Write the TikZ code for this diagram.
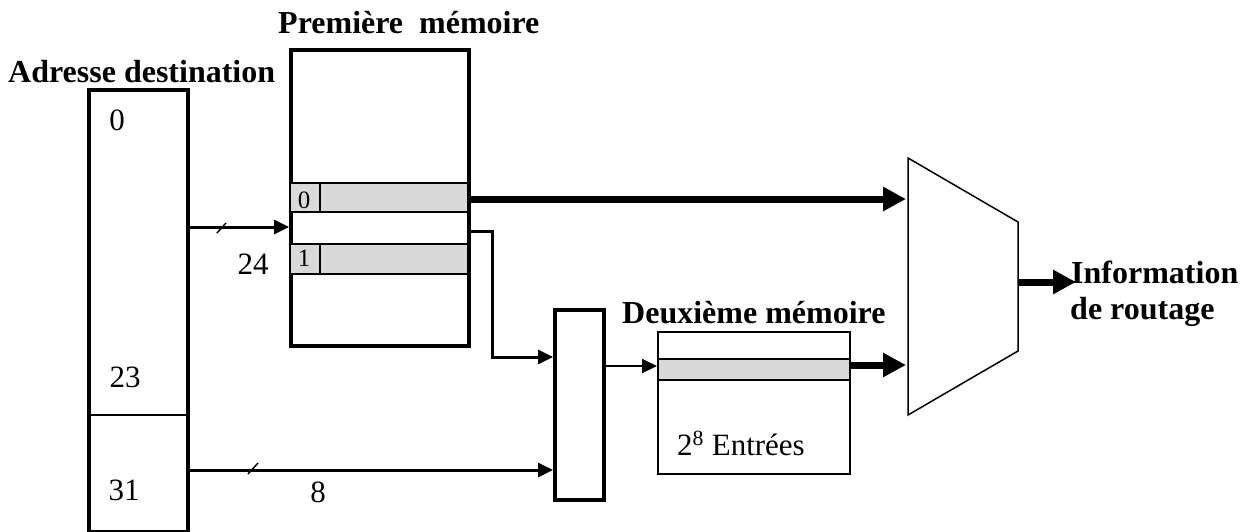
\documentclass[tikz,border=0pt]{standalone}
\usepackage{fontspec}
\setmainfont{Liberation Serif}
\usetikzlibrary{arrows.meta}
\begin{document}
\begin{tikzpicture}[x=1pt,y=-1pt,
  box/.style={draw, rectangle, inner sep=0pt, anchor=north west},
  heavybox/.style={box, line width=4pt},
  lightbox/.style={box, line width=1.5pt},
  rowbox/.style={box, line width=1.5pt, fill=rowgray},
  title/.style={font=\fontsize{32}{36}\selectfont\bfseries, inner sep=0pt},
  lbl/.style={font=\fontsize{31}{34}\selectfont, inner sep=0pt},
  smalllbl/.style={font=\fontsize{25}{28}\selectfont, inner sep=0pt},
  busarrow/.style={line width=3pt, -{Triangle[length=15pt,width=14pt]}},
  thinarrow/.style={line width=2pt, -{Triangle[length=15pt,width=14pt]}},
  widearrow/.style={line width=7pt, -{Triangle[length=23pt,width=23pt]}},
  tick/.style={line width=1.5pt},
]
\definecolor{rowgray}{HTML}{D9D9D9}
\useasboundingbox (0,0) rectangle (1250,531);

% destination address register
\node[heavybox, minimum width=99pt, minimum height=442pt] (addr) at (87,88) {};
\draw[line width=1.5pt] (addr.west |- 0,415) coordinate (divL) -- (addr.east |- divL) coordinate (divR);
\node[title, anchor=base west] (addrT) at (8,82) {Adresse destination};
\node[lbl, anchor=base] (b0) at (117,130) {0};
\node[lbl, anchor=base] (b23) at (125,387) {23};
\node[lbl, anchor=base] (b31) at (124,500) {31};

% first memory with two entries
\node[heavybox, minimum width=178pt, minimum height=296pt] (mem1) at (289,48) {};
\node[title, anchor=base west] (mem1T) at (278,33) {Première\ \ mémoire};
\node[rowbox, minimum width=178pt, minimum height=29pt] (row0) at (289,182) {};
\node[rowbox, minimum width=30pt, minimum height=29pt] (cell0) at (289,182) {};
\node[smalllbl, anchor=base] (d0) at (304,208) {0};
\node[rowbox, minimum width=178pt, minimum height=30pt] (row1) at (289,243) {};
\node[rowbox, minimum width=30pt, minimum height=30pt] (cell1) at (289,243) {};
\node[smalllbl, anchor=base] (d1) at (304,266) {1};

% selector
\node[heavybox, minimum width=49pt, minimum height=190pt] (sel) at (553,308) {};

% second memory
\node[lightbox, minimum width=192pt, minimum height=142pt] (mem2) at (657,331) {};
\node[rowbox, minimum width=192pt, minimum height=21pt] (row2) at (657,358) {};
\node[title, anchor=base west] (mem2T) at (622,323) {Deuxième mémoire};
\node[lbl, anchor=base west] (entries) at (677,455) {2\textsuperscript{8} Entrées};

% output multiplexer
\coordinate (mtl) at (908,158);
\coordinate (mtr) at (1018,222);
\coordinate (mbr) at (1018,351);
\coordinate (mbl) at (908,415);
\draw[line width=1.5pt, line join=miter] (mtl) -- (mtr) -- (mbr) -- (mbl) -- cycle;
\node[title, anchor=base west] (info1) at (1071,283) {Information};
\node[title, anchor=base west] (info2) at (1070,319) {de routage};

% port coordinates
\coordinate (in24) at (289,227);
\coordinate (in8) at (553,470);
\coordinate (r1out) at (467,231);
\coordinate (selin) at (553,357);
\coordinate (selout) at (602,366);
\coordinate (muxA) at (906,199);
\coordinate (muxB) at (906,365);
\coordinate (muxout) at (1018,282);
\coordinate (infoin) at (1076,282);

% connectors
\draw[busarrow] (addr.east |- in24) -- (in24);
\draw[tick] (217,233) -- (226,223);
\node[lbl, anchor=base] (w24) at (253,274) {24};

\draw[busarrow] (addr.east |- in8) -- (in8);
\draw[tick] (248,474) -- (258,463);
\node[lbl, anchor=base] (w8) at (318,502) {8};

\draw[widearrow] (row0.east |- muxA) -- (muxA);
\draw[line width=3pt, -{Triangle[length=15pt,width=14pt]}, line join=miter]
  (r1out) -| (492,357) -- (selin);
\draw[thinarrow] (selout) -- (mem2.west |- selout);
\draw[widearrow] (row2.east |- muxB) -- (muxB);
\draw[widearrow] (muxout) -- (infoin);
\end{tikzpicture}
\end{document}
